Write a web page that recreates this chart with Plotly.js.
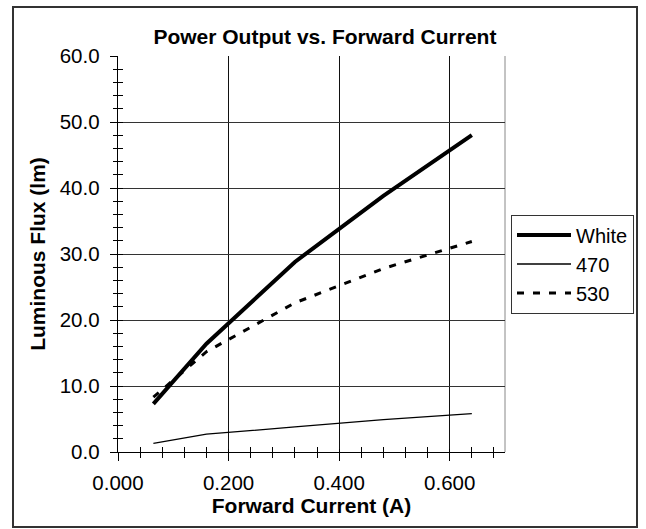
<!DOCTYPE html>
<html>
<head>
<meta charset="utf-8">
<script src="https://cdn.plot.ly/plotly-3.0.1.min.js"></script>
<style>html,body{margin:0;padding:0;background:#fff;}#chart{width:646px;height:529px;}</style>
</head>
<body>
<div id="chart"></div>
<script>
// Data
const current = [0.064, 0.16, 0.32, 0.48, 0.64];          // Forward Current (A)
const fluxWhite = [7.3, 16.4, 28.8, 38.8, 48.0];           // White (lm)
const flux470 = [1.3, 2.7, 3.8, 4.9, 5.8];                 // 470 (lm)
const flux530 = [8.3, 15.2, 22.6, 27.8, 31.9];             // 530 (lm)
const seriesNames = ["White", "470", "530"];

const FONT = "Liberation Sans, Arial, Helvetica, sans-serif";

const traces = [
  {x: current, y: fluxWhite, name: seriesNames[0], mode: "lines",
   line: {color: "#000", width: 4}},
  {x: current, y: flux470, name: seriesNames[1], mode: "lines",
   line: {color: "#000", width: 1.3}},
  {x: current, y: flux530, name: seriesNames[2], mode: "lines",
   line: {color: "#000", width: 3, dash: "7px,9px"}}
];

const layout = {
  width: 646, height: 529,
  margin: {l: 118, r: 141, t: 56, b: 77, autoexpand: false},
  paper_bgcolor: "#fff", plot_bgcolor: "#fff",
  font: {family: FONT, size: 20, color: "#000"},
  showlegend: true,
  title: {text: "<b>Power Output vs. Forward Current</b>", font: {family: FONT, size: 21, color: "#000"},
          x: 0.503, xref: "container", xanchor: "center", y: 0.931, yref: "container", yanchor: "middle"},
  xaxis: {
    range: [0, 0.7], dtick: 0.2, tick0: 0, tickformat: ".3f",
    showline: true, linecolor: "#000", linewidth: 1.3,
    showgrid: true, gridcolor: "#111", gridwidth: 1, zeroline: false,
    ticks: "outside", ticklen: 8, tickcolor: "#000", tickwidth: 1,
    ticklabelstandoff: 4,
    minor: {dtick: 0.04, ticks: "outside", ticklen: 5, tickcolor: "#000", showgrid: false},
    tickfont: {family: FONT, size: 20.5, color: "#000"},
    title: {text: "<b>Forward Current (A)</b>", font: {family: FONT, size: 21, color: "#000"}, standoff: 4},
    automargin: false,
    fixedrange: true
  },
  yaxis: {
    range: [0, 60], dtick: 10, tick0: 0, tickformat: ".1f",
    showline: true, linecolor: "#000", linewidth: 1.3,
    showgrid: true, gridcolor: "#333", gridwidth: 1, zeroline: false,
    ticks: "outside", ticklen: 7, tickcolor: "#000", tickwidth: 1,
    ticklabelstandoff: 6,
    minor: {dtick: 2, ticks: "outside", ticklen: 4, tickcolor: "#000", showgrid: false},
    tickfont: {family: FONT, size: 20.5, color: "#000"},
    title: {text: "<b>Luminous Flux (lm)</b>", font: {family: FONT, size: 21, color: "#000"}, standoff: 8},
    automargin: false,
    fixedrange: true
  },
  xaxis2: {
    overlaying: "x", range: [0, 0.7], dtick: 0.2, tick0: 0, showticklabels: false,
    showgrid: false, zeroline: false, showline: false,
    ticks: "inside", ticklen: 3, tickcolor: "#000",
    minor: {dtick: 0.04, ticks: "inside", ticklen: 5, tickcolor: "#000", showgrid: false}
  },
  yaxis2: {
    overlaying: "y", range: [0, 60], dtick: 10, tick0: 0, showticklabels: false,
    showgrid: false, zeroline: false, showline: false,
    ticks: "inside", ticklen: 5, tickcolor: "#000",
    minor: {dtick: 2, ticks: "inside", ticklen: 5, tickcolor: "#000", showgrid: false}
  },
  legend: {
    x: 1.0155, xanchor: "left", y: 0.5997, yanchor: "top",
    bgcolor: "#fff", bordercolor: "#333", borderwidth: 1,
    font: {family: FONT, size: 20, color: "#000"},
    itemwidth: 54, tracegroupgap: 0
  },
  shapes: [
    // plot-area right border (gray)
    {type: "line", xref: "paper", yref: "paper", x0: 1, x1: 1, y0: 0, y1: 1,
     line: {color: "#888", width: 1}, layer: "below"},
    // chart-area outer border
    {type: "rect", xref: "paper", yref: "paper",
     x0: (13 - 118) / 387, x1: (637 - 118) / 387,
     y0: (452 - 527) / 396, y1: (452 - 7) / 396,
     line: {color: "#333", width: 2}, fillcolor: "rgba(0,0,0,0)", layer: "below"}
  ]
};

// invisible helper trace so the overlay axes (cross ticks) are drawn
traces.push({x: current, y: fluxWhite, xaxis: "x2", yaxis: "y2", mode: "lines",
  line: {width: 0}, opacity: 0, showlegend: false, hoverinfo: "skip"});

Plotly.newPlot("chart", traces, layout, {staticPlot: true, displayModeBar: false});
</script>
</body>
</html>
